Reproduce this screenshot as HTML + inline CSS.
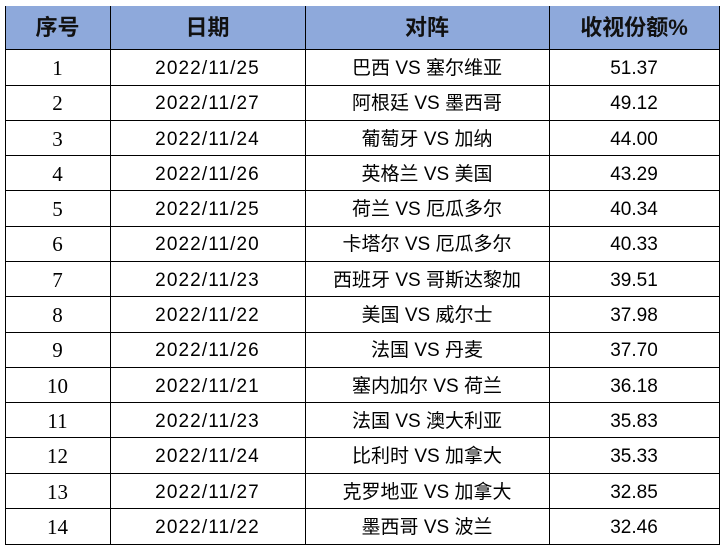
<!DOCTYPE html>
<html><head><meta charset="utf-8">
<style>
html,body{margin:0;padding:0;background:#fff;}
body{width:723px;height:547px;position:relative;overflow:hidden;}
.hd{position:absolute;left:5px;top:6px;width:715px;height:44px;background:#8EA9DB;}
.v{position:absolute;top:6px;height:539px;width:1px;background:#000;}
.h{position:absolute;left:5px;width:715px;height:1px;background:#000;}
.c{position:absolute;height:35px;line-height:35px;text-align:center;white-space:nowrap;color:#000;margin-top:1px;}
.th{position:absolute;top:6px;height:44px;line-height:44px;text-align:center;font-family:"Liberation Sans","Noto Sans CJK SC",sans-serif;font-weight:bold;font-size:22px;color:#111;}
.c1{left:5px;width:105px;font-family:"Liberation Serif",serif;font-size:21px;}
.c2{left:110px;width:195px;font-family:"Liberation Sans",sans-serif;font-size:19px;letter-spacing:1.1px;}
.c3{left:305px;width:244px;font-family:"Liberation Sans","Noto Sans CJK SC",sans-serif;font-size:19px;}
.c4{left:549px;width:170px;font-family:"Liberation Sans",sans-serif;font-size:19px;}
</style></head><body>
<div class="hd"></div>
<div class="th" style="left:5px;width:105px;">序号</div>
<div class="th" style="left:110px;width:195px;">日期</div>
<div class="th" style="left:305px;width:244px;">对阵</div>
<div class="th" style="left:549px;width:170px;">收视份额%</div>

<div class="v" style="left:5px"></div>
<div class="v" style="left:110px"></div>
<div class="v" style="left:305px"></div>
<div class="v" style="left:549px"></div>
<div class="v" style="left:719px"></div>

<div class="h" style="top:49px"></div>
<div class="h" style="top:85px"></div>
<div class="h" style="top:120px"></div>
<div class="h" style="top:155px"></div>
<div class="h" style="top:190px"></div>
<div class="h" style="top:226px"></div>
<div class="h" style="top:261px"></div>
<div class="h" style="top:296px"></div>
<div class="h" style="top:332px"></div>
<div class="h" style="top:367px"></div>
<div class="h" style="top:402px"></div>
<div class="h" style="top:437px"></div>
<div class="h" style="top:473px"></div>
<div class="h" style="top:508px"></div>
<div class="h" style="top:544px"></div>

<div class="c c1" style="top:50px">1</div><div class="c c2" style="top:50px">2022/11/25</div><div class="c c3" style="top:50px">巴西 VS 塞尔维亚</div><div class="c c4" style="top:50px">51.37</div>
<div class="c c1" style="top:85px">2</div><div class="c c2" style="top:85px">2022/11/27</div><div class="c c3" style="top:85px">阿根廷 VS 墨西哥</div><div class="c c4" style="top:85px">49.12</div>
<div class="c c1" style="top:121px">3</div><div class="c c2" style="top:121px">2022/11/24</div><div class="c c3" style="top:121px">葡萄牙 VS 加纳</div><div class="c c4" style="top:121px">44.00</div>
<div class="c c1" style="top:156px">4</div><div class="c c2" style="top:156px">2022/11/26</div><div class="c c3" style="top:156px">英格兰 VS 美国</div><div class="c c4" style="top:156px">43.29</div>
<div class="c c1" style="top:191px">5</div><div class="c c2" style="top:191px">2022/11/25</div><div class="c c3" style="top:191px">荷兰 VS 厄瓜多尔</div><div class="c c4" style="top:191px">40.34</div>
<div class="c c1" style="top:226px">6</div><div class="c c2" style="top:226px">2022/11/20</div><div class="c c3" style="top:226px">卡塔尔 VS 厄瓜多尔</div><div class="c c4" style="top:226px">40.33</div>
<div class="c c1" style="top:262px">7</div><div class="c c2" style="top:262px">2022/11/23</div><div class="c c3" style="top:262px">西班牙 VS 哥斯达黎加</div><div class="c c4" style="top:262px">39.51</div>
<div class="c c1" style="top:297px">8</div><div class="c c2" style="top:297px">2022/11/22</div><div class="c c3" style="top:297px">美国 VS 威尔士</div><div class="c c4" style="top:297px">37.98</div>
<div class="c c1" style="top:332px">9</div><div class="c c2" style="top:332px">2022/11/26</div><div class="c c3" style="top:332px">法国 VS 丹麦</div><div class="c c4" style="top:332px">37.70</div>
<div class="c c1" style="top:368px">10</div><div class="c c2" style="top:368px">2022/11/21</div><div class="c c3" style="top:368px">塞内加尔 VS 荷兰</div><div class="c c4" style="top:368px">36.18</div>
<div class="c c1" style="top:403px">11</div><div class="c c2" style="top:403px">2022/11/23</div><div class="c c3" style="top:403px">法国 VS 澳大利亚</div><div class="c c4" style="top:403px">35.83</div>
<div class="c c1" style="top:438px">12</div><div class="c c2" style="top:438px">2022/11/24</div><div class="c c3" style="top:438px">比利时 VS 加拿大</div><div class="c c4" style="top:438px">35.33</div>
<div class="c c1" style="top:474px">13</div><div class="c c2" style="top:474px">2022/11/27</div><div class="c c3" style="top:474px">克罗地亚 VS 加拿大</div><div class="c c4" style="top:474px">32.85</div>
<div class="c c1" style="top:509px">14</div><div class="c c2" style="top:509px">2022/11/22</div><div class="c c3" style="top:509px">墨西哥 VS 波兰</div><div class="c c4" style="top:509px">32.46</div>
</body></html>
